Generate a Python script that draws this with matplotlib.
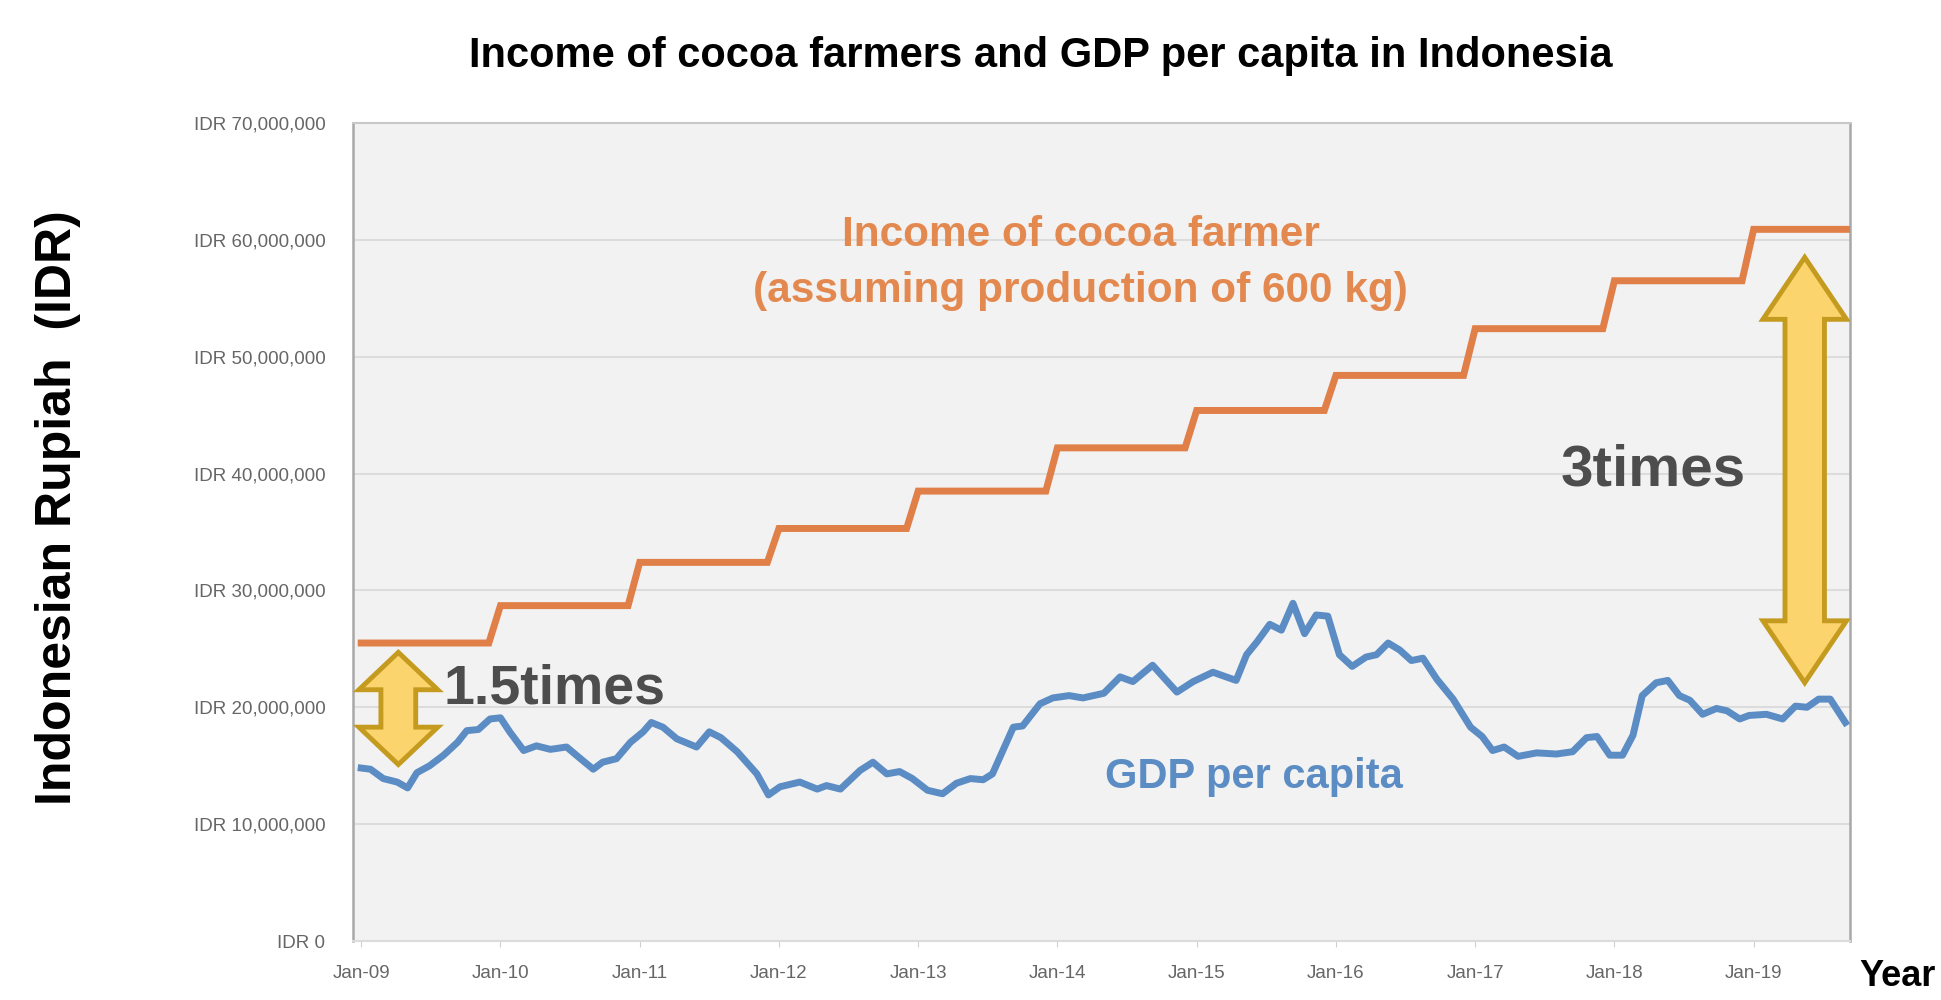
import numpy as np
import matplotlib.pyplot as plt
from matplotlib.patches import Polygon
from matplotlib.ticker import FuncFormatter

# cocoa farmer income, one value per year (million IDR), changes each January
cocoa_years = [2009, 2010, 2011, 2012, 2013, 2014, 2015, 2016, 2017, 2018, 2019]
cocoa_income = [25.5, 28.7, 32.4, 35.3, 38.5, 42.2, 45.4, 48.4, 52.4, 56.5, 60.9]

# GDP per capita (months since Jan-09, million IDR)
gdp_month = [0.0, 0.8, 1.9, 3.1, 4.0, 4.8, 5.9, 7.1, 8.3, 9.1, 10.1, 11.1, 12.0,
             12.8, 14.0, 15.1, 16.3, 17.7, 18.9, 20.0, 20.8, 22.0, 23.2, 24.3,
             25.0, 26.0, 27.2, 28.9, 30.0, 31.0, 32.4, 34.1, 35.1, 36.1, 37.8,
             39.3, 40.1, 41.3, 43.0, 44.1, 45.3, 46.4, 47.5, 48.8, 50.1, 51.3,
             52.5, 53.6, 54.4, 55.3, 56.2, 57.0, 58.5, 59.6, 61.0, 62.2, 64.0,
             65.4, 66.5, 68.2, 70.3, 71.7, 73.4, 75.4, 76.3, 77.2, 78.3, 79.3,
             80.3, 81.3, 82.3, 83.3, 84.3, 85.4, 86.6, 87.5, 88.5, 89.5, 90.5,
             91.5, 92.7, 94.1, 95.6, 96.6, 97.5, 98.5, 99.7, 101.3, 103.0,
             104.4, 105.6, 106.5, 107.6, 108.7, 109.6, 110.4, 111.6, 112.6,
             113.6, 114.5, 115.6, 116.8, 117.7, 118.8, 119.6, 121.1, 122.5,
             123.6, 124.6, 125.6, 126.6, 127.9]
gdp_value = [14.8, 14.7, 13.9, 13.6, 13.1, 14.4, 15.0, 15.9, 17.0, 18.0, 18.1,
             19.0, 19.1, 17.9, 16.3, 16.7, 16.4, 16.6, 15.6, 14.7, 15.3, 15.6,
             17.0, 17.9, 18.7, 18.3, 17.3, 16.6, 17.9, 17.4, 16.2, 14.3, 12.5,
             13.2, 13.6, 13.0, 13.3, 13.0, 14.6, 15.3, 14.3, 14.5, 13.9, 12.9,
             12.6, 13.5, 13.9, 13.8, 14.3, 16.3, 18.3, 18.4, 20.3, 20.8, 21.0,
             20.8, 21.2, 22.6, 22.2, 23.6, 21.3, 22.2, 23.0, 22.3, 24.5, 25.6,
             27.1, 26.6, 28.9, 26.3, 27.9, 27.8, 24.5, 23.5, 24.3, 24.5, 25.5,
             24.9, 24.0, 24.2, 22.4, 20.7, 18.3, 17.5, 16.3, 16.6, 15.8, 16.1,
             16.0, 16.2, 17.4, 17.5, 15.9, 15.9, 17.6, 21.0, 22.1, 22.3, 21.0,
             20.6, 19.4, 19.9, 19.7, 19.0, 19.3, 19.4, 19.0, 20.1, 20.0, 20.7,
             20.7, 18.7]

tick_labels = ['Jan-09', 'Jan-10', 'Jan-11', 'Jan-12', 'Jan-13', 'Jan-14',
               'Jan-15', 'Jan-16', 'Jan-17', 'Jan-18', 'Jan-19']
last_month = 128

ORANGE = '#E07F47'
BLUE = '#5B8CC4'
GOLD_EDGE = '#C49A1F'
GOLD_FILL = '#FBD46D'


def double_arrow(ax, cx, y0, y1, head_hw, shaft_hw, head_len):
    """Vertical block arrow with heads at both ends (data coords)."""
    pts = [(cx, y1), (cx + head_hw, y1 - head_len), (cx + shaft_hw, y1 - head_len),
           (cx + shaft_hw, y0 + head_len), (cx + head_hw, y0 + head_len), (cx, y0),
           (cx - head_hw, y0 + head_len), (cx - shaft_hw, y0 + head_len),
           (cx - shaft_hw, y1 - head_len), (cx - head_hw, y1 - head_len)]
    ax.add_patch(Polygon(pts, closed=True, facecolor=GOLD_FILL, edgecolor=GOLD_EDGE,
                         linewidth=3.5, joinstyle='miter', zorder=5))


fig = plt.figure(figsize=(19.41, 10), dpi=100)
ax = fig.add_axes([0.1819, 0.059, 0.7712, 0.818])
ax.set_facecolor('#F2F2F2')

# orange step line: flat across each year, slanted jump Dec -> Jan
cx_, cy_ = [], []
for i, v in enumerate(cocoa_income):
    start = 12 * i
    end = min(12 * i + 11, last_month)
    cx_ += [start, end]
    cy_ += [v * 1e6, v * 1e6]
ax.plot(cx_, cy_, color=ORANGE, lw=5, solid_joinstyle='miter', zorder=3)

ax.plot(gdp_month, np.array(gdp_value) * 1e6, color=BLUE, lw=5,
        solid_joinstyle='round', zorder=3)

ax.set_xlim(-0.7, 128.3)
ax.set_ylim(0, 70e6)
ax.set_yticks(np.arange(0, 70e6 + 1, 10e6))
ax.yaxis.set_major_formatter(FuncFormatter(lambda v, p: f'IDR {v:,.0f}'))
ax.set_xticks(np.arange(0, 121, 12))
ax.set_xticklabels(tick_labels)
ax.grid(axis='y', color='#DCDCDC', lw=1.5)
ax.set_axisbelow(True)

for lab in ax.get_yticklabels() + ax.get_xticklabels():
    lab.set_family('Liberation Sans')
    lab.set_fontsize(13.5)
    lab.set_color('#666666')
ax.tick_params(axis='y', length=0, pad=20)
ax.tick_params(axis='x', length=4, color='#D0D0D0', pad=13)

for side in ['left', 'right']:
    ax.spines[side].set_color('#A8A8A8')
    ax.spines[side].set_linewidth(1.8)
ax.spines['top'].set_color('#C8C8C8')
ax.spines['top'].set_linewidth(1.5)
ax.spines['bottom'].set_color('#DCDCDC')
ax.spines['bottom'].set_linewidth(1.5)

# annotations
ax.text(62, 58.0e6, 'Income of cocoa farmer\n(assuming production of 600 kg)',
        color='#E3894F', fontsize=30.5, fontweight='bold', ha='center', va='center',
        linespacing=1.5, family='Liberation Sans', zorder=6)
ax.text(76.9, 14.0e6, 'GDP per capita', color=BLUE, fontsize=30,
        fontweight='bold', ha='center', va='center', family='Liberation Sans', zorder=6)
ax.text(7.1, 21.5e6, '1.5times', color='#4D4D4D', fontsize=40,
        fontweight='bold', ha='left', va='center', family='Liberation Sans', zorder=6)
ax.text(103.4, 40.3e6, '3times', color='#4D4D4D', fontsize=42,
        fontweight='bold', ha='left', va='center', family='Liberation Sans', zorder=6)

double_arrow(ax, 3.2, 15.1e6, 24.7e6, 3.4, 1.5, 3.2e6)
double_arrow(ax, 124.4, 22.1e6, 58.5e6, 3.6, 1.7, 5.3e6)

fig.text(0.536, 0.944, 'Income of cocoa farmers and GDP per capita in Indonesia',
         fontsize=30, fontweight='bold', ha='center', va='center',
         family='Liberation Sans')
fig.text(0.030, 0.492, 'Indonesian Rupiah  (IDR)', rotation=90, fontsize=36,
         fontweight='bold', ha='center', va='center', family='Liberation Sans')
fig.text(0.958, 0.024, 'Year', fontsize=26, fontweight='bold', ha='left',
         va='center', family='Liberation Sans')

fig.savefig('out.png', dpi=100)
